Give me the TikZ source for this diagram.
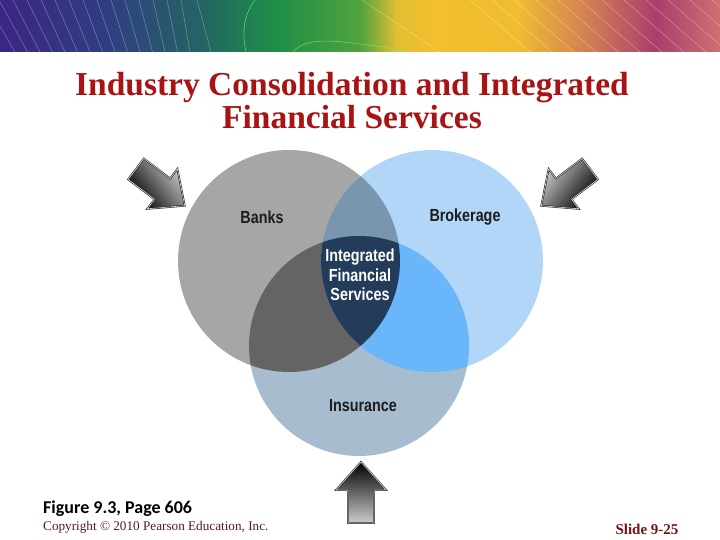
\documentclass[tikz,border=0pt]{standalone}
\usepackage{fontspec}
\setmainfont{Liberation Serif}
\newfontfamily\labelfont{Liberation Sans}[FakeStretch=0.82]
\newfontfamily\figfont{Carlito}
\usetikzlibrary{positioning}

\definecolor{titleRed}{RGB}{168,20,20}
\definecolor{footRed}{RGB}{92,26,26}
\definecolor{slideRed}{RGB}{122,18,18}
\definecolor{labelInk}{RGB}{28,28,28}
\definecolor{banksGrey}{RGB}{166,166,166}
\definecolor{brokerBlue}{RGB}{178,214,248}
\definecolor{insurBlue}{RGB}{168,188,208}
\definecolor{banksBroker}{RGB}{122,150,174}
\definecolor{banksInsur}{RGB}{100,100,100}
\definecolor{brokerInsur}{RGB}{105,183,250}
\definecolor{allThree}{RGB}{35,60,90}
\definecolor{bnA}{RGB}{58,38,132}
\definecolor{bnB}{RGB}{48,62,128}
\definecolor{bnC}{RGB}{36,100,100}
\definecolor{bnD}{RGB}{30,142,72}
\definecolor{bnE}{RGB}{80,162,62}
\definecolor{bnF}{RGB}{225,190,50}
\definecolor{bnG}{RGB}{242,192,45}
\definecolor{bnH}{RGB}{240,188,48}
\definecolor{bnI}{RGB}{212,132,80}
\definecolor{bnJ}{RGB}{170,62,108}
\definecolor{bnK}{RGB}{205,112,112}

\pgfdeclarehorizontalshading{banner}{100bp}{color(0bp)=(bnA); color(25bp)=(bnA);
  color(32.5bp)=(bnB); color(39bp)=(bnC); color(44bp)=(bnD); color(50bp)=(bnE);
  color(52.5bp)=(bnF); color(55bp)=(bnG); color(61bp)=(bnH); color(65.5bp)=(bnI);
  color(70.5bp)=(bnJ); color(75bp)=(bnK); color(100bp)=(bnK)}

\begin{document}
\begin{tikzpicture}[x=1pt,y=-1pt,
    circlabel/.style={font=\labelfont\bfseries\fontsize{17.5}{19.5}\selectfont, text=labelInk, inner sep=0pt},
    titletext/.style={font=\bfseries\fontsize{33.5}{38}\selectfont, text=titleRed, inner sep=0pt},
    bannerline/.style={white, line width=0.5pt, opacity=0.35},
    blockarrow/.style={bottom color=black!20, top color=black}]

  \useasboundingbox (0,0) rectangle (720,540);

  % banner
  \shade[shading=banner] (0,0) rectangle (720,52);
  \begin{scope}
    \clip (0,0) rectangle (720,52);
    \foreach \i in {0,...,14}
      \draw[bannerline] (\i*14-15,0) -- (\i*14+15-\i*1.5,52);
    \draw[bannerline] (197,0) -- (211,52);
    \draw[green!60!white, line width=0.6pt, opacity=0.7] (255,0) .. controls (243,15) and (242,35) .. (246,52);
    \draw[green!60!white, line width=0.6pt, opacity=0.7] (293,52) .. controls (305,38) and (330,40) .. (360,44) .. controls (385,47) .. (420,55);
    \draw[bannerline] (362,0) -- (440,52);
    \foreach \i in {0,...,12}
      \draw[bannerline] (470+\i*22,0) -- (530+\i*22,52);
  \end{scope}

  % title
  \node[titletext, anchor=base] (titleA) at (352,96) {Industry Consolidation and Integrated};
  \node[titletext, anchor=base] (titleB) at ([yshift=-33pt]titleA.base) {Financial Services};

  % circles
  \coordinate (banks) at (289,261);
  \coordinate (broker) at (432,261);
  \coordinate (insur) at (359,346);
  \fill[banksGrey] (banks) circle[radius=111pt];
  \fill[brokerBlue] (broker) circle[radius=111pt];
  \fill[insurBlue] (insur) circle[radius=110pt];
  \begin{scope}
    \clip (banks) circle[radius=111pt];
    \fill[banksBroker] (broker) circle[radius=111pt];
    \fill[banksInsur] (insur) circle[radius=110pt];
  \end{scope}
  \begin{scope}
    \clip (broker) circle[radius=111pt];
    \fill[brokerInsur] (insur) circle[radius=110pt];
  \end{scope}
  \begin{scope}
    \clip (banks) circle[radius=111pt];
    \clip (broker) circle[radius=111pt];
    \fill[allThree] (insur) circle[radius=110pt];
  \end{scope}

  \node[circlabel] (banksText) at (262,217) {Banks};
  \node[circlabel] (brokerText) at (465,217) {Brokerage};
  \node[circlabel] (insurText) at (363,406) {Insurance};
  \node[circlabel, text=white, align=center] (ifsText) at (360,275) {Integrated\\Financial\\Services};

  % arrows
  \foreach \tx/\ty/\ang/\shadeang in {136/169/-37/127, 590/169/-143/233, 361/523/90/0} {
    \begin{scope}[shift={(\tx,\ty)}, rotate=\ang]
      \shade[blockarrow, shading angle=\shadeang]
        (0,-13) -- (33,-13) -- (33,-25) -- (61,0) -- (33,25) -- (33,13) -- (0,13) -- cycle;
      \draw[black!85, line width=1.8pt, line join=miter]
        (0,-13) -- (33,-13) -- (33,-25) -- (61,0) -- (33,25) -- (33,13) -- (0,13) -- cycle;
      \draw[white!85!black, line width=0.6pt, line join=miter]
        (0,-13) -- (33,-13) -- (33,-25) -- (61,0) -- (33,25) -- (33,13) -- (0,13) -- cycle;
    \end{scope}
  }

  % footer
  \node[anchor=base west, inner sep=0pt, font=\figfont\bfseries\fontsize{18}{21}\selectfont] (figRef) at (43,513) {Figure 9.3, Page 606};
  \node[anchor=base west, inner sep=0pt, text=footRed, font=\fontsize{13.2}{15}\selectfont] (copyText) at (43,530) {Copyright \textcopyright{} 2010 Pearson Education, Inc.};
  \node[anchor=base, inner sep=0pt, text=slideRed, font=\bfseries\fontsize{15}{17}\selectfont] (slideNo) at (647,534) {Slide 9-25};

\end{tikzpicture}
\end{document}
